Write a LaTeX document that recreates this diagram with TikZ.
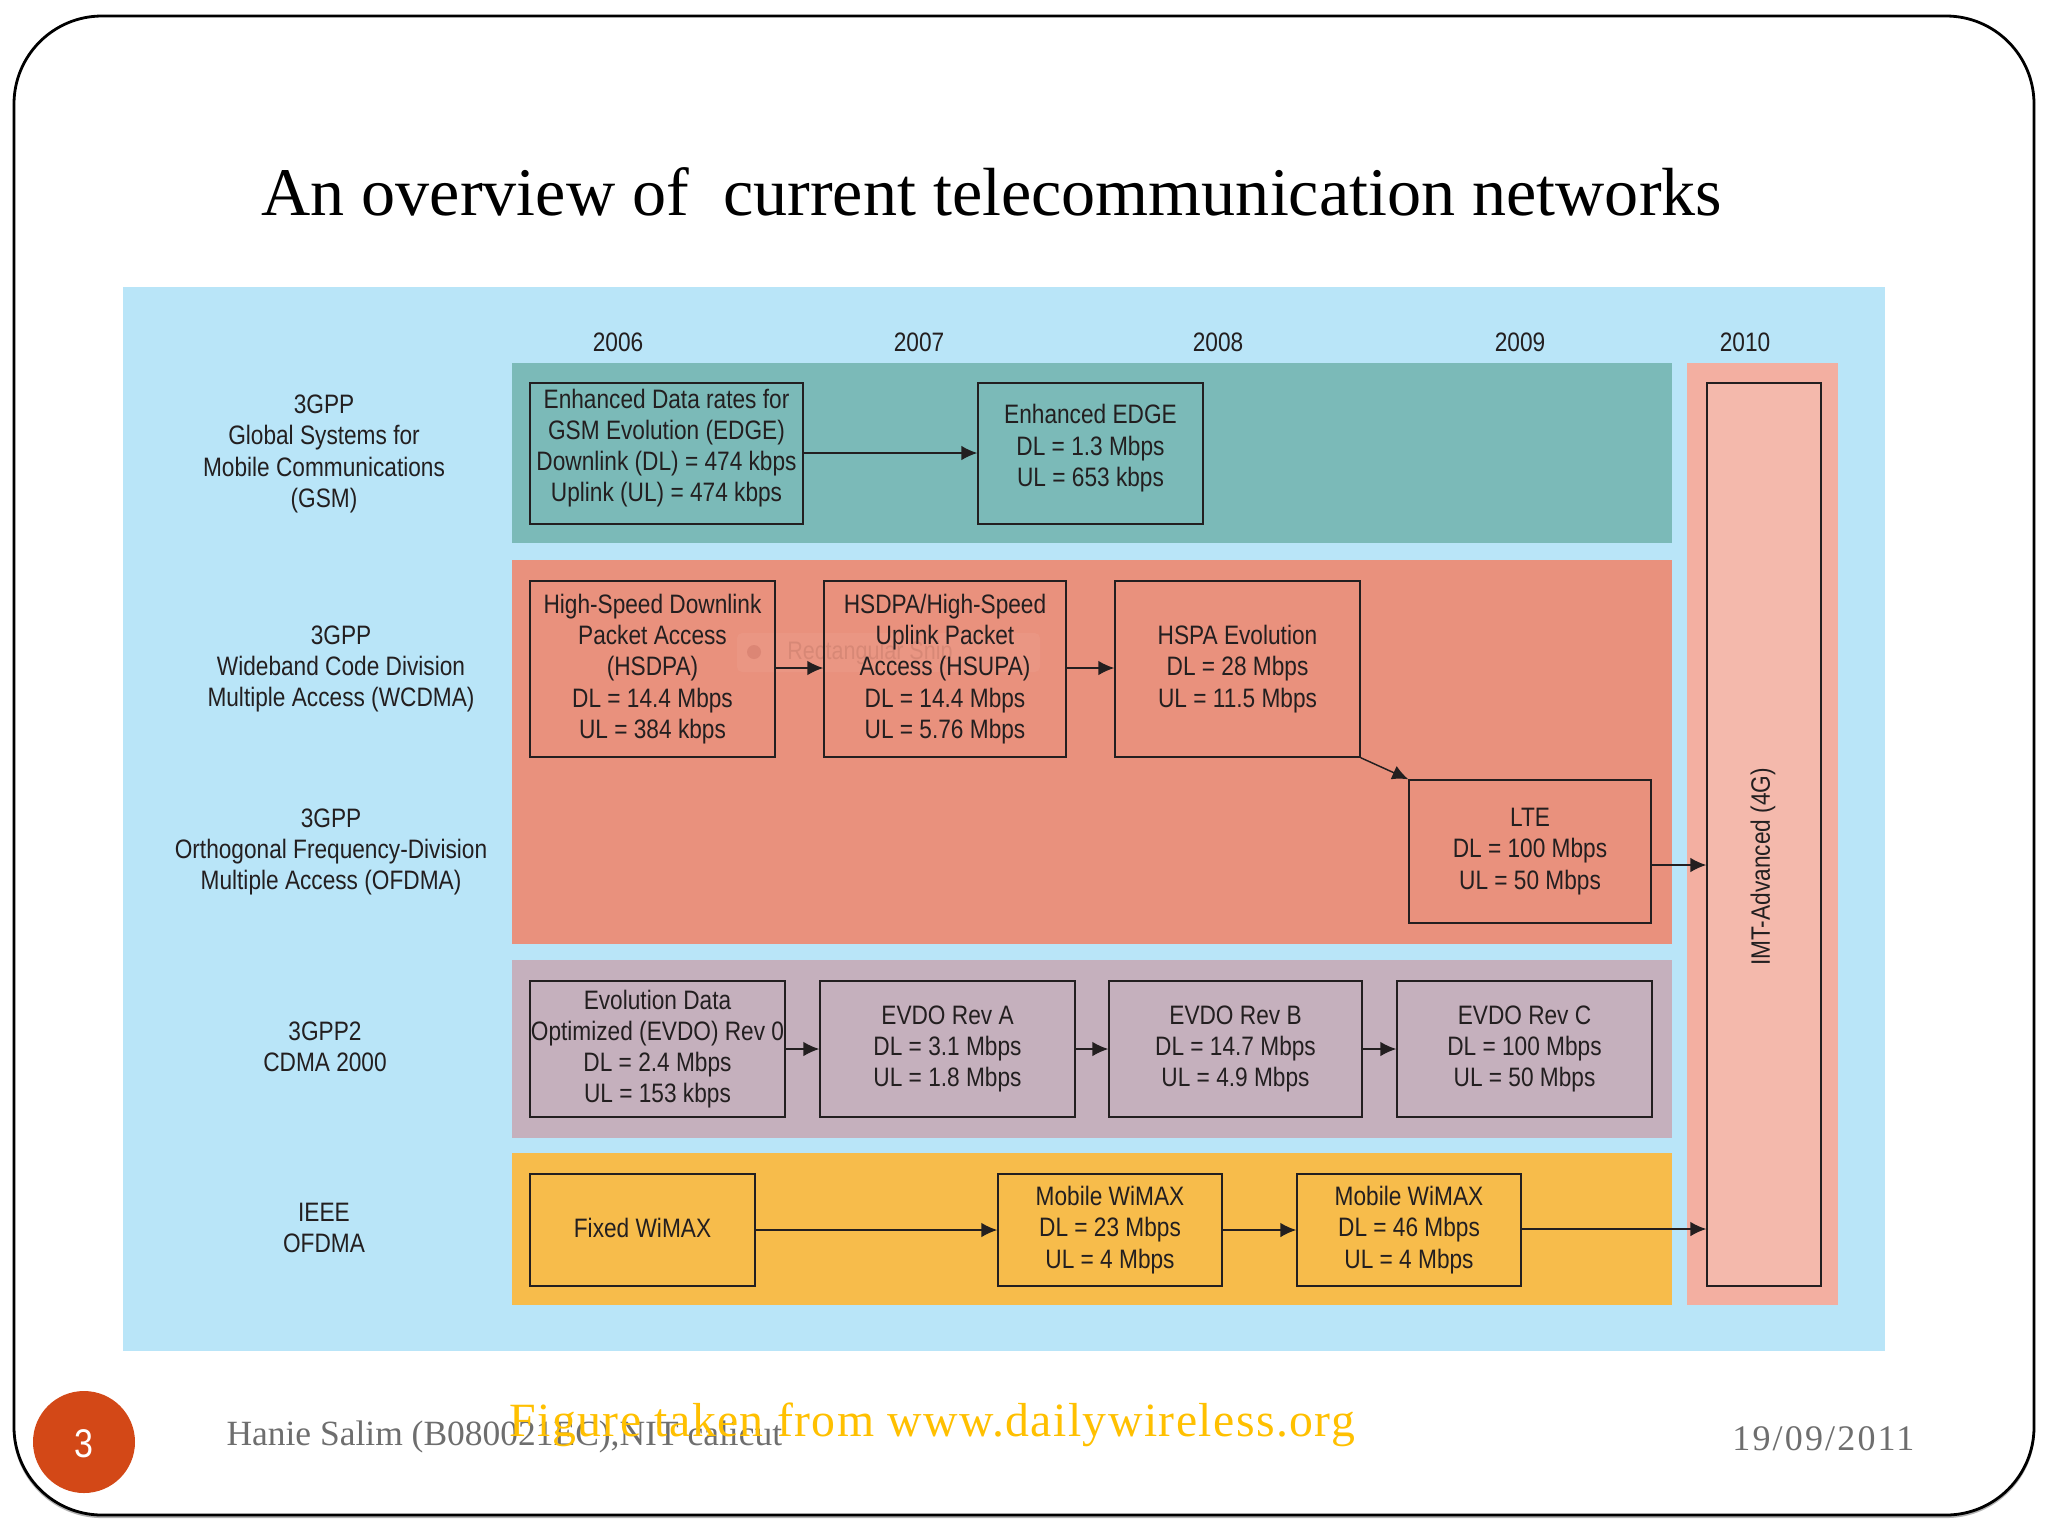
\documentclass[tikz,border=0pt]{standalone}
\usepackage{fontspec}
\usetikzlibrary{arrows.meta}
\setmainfont{Liberation Sans}[FakeStretch=0.85]
\newfontfamily\titlefont{Liberation Serif}
\newfontfamily\authorfont{Liberation Serif}
\newfontfamily\creditfont{Liberation Serif}[LetterSpace=3]
\newfontfamily\datefont{Liberation Serif}[LetterSpace=6]
\definecolor{bgblue}{HTML}{B9E5F8}
\definecolor{bandgreen}{HTML}{7BBAB8}
\definecolor{bandred}{HTML}{E9917D}
\definecolor{bandpurple}{HTML}{C5B0BD}
\definecolor{bandyellow}{HTML}{F7BC4B}
\definecolor{bandpink}{HTML}{F3AFA1}
\definecolor{innerpink}{HTML}{F4B9AC}
\definecolor{txt}{HTML}{231F20}
\definecolor{footgray}{HTML}{6E6E6E}
\definecolor{footyellow}{HTML}{FFC000}
\definecolor{badge}{HTML}{D34817}
\tikzset{
  x=0.375pt,y=-0.375pt,
  bx/.style={draw=txt,line width=0.55pt,inner sep=0pt,align=center,text=txt,
    font=\fontsize{10}{11.7}\selectfont},
  lbl/.style={inner sep=0pt,align=center,text=txt,font=\fontsize{10}{11.7}\selectfont},
  conn/.style={draw=txt,line width=0.55pt,-{Latex[length=6pt,width=5.5pt]}},
}
\newcommand{\pxbox}[6]{%
  \pgfmathsetmacro\ww{(#4-#2)*0.375}%
  \pgfmathsetmacro\hh{(#5-#3)*0.375}%
  \node[bx,minimum width=\ww pt,minimum height=\hh pt] (#1) at ({(#2+#4)/2},{(#3+#5)/2}) {#6};}
\newcommand{\liftline}{\rule[-6pt]{0pt}{6pt}}
\begin{document}
\begin{tikzpicture}
\useasboundingbox (0,0) rectangle (2048,1536);
\fill[white] (0,0) rectangle (2048,1536);
% frame
\draw[black!30,line width=0.8pt,rounded corners=33pt] (14,18) rectangle (2034,1517);
\draw[black,line width=1.05pt,rounded corners=33pt,fill=white] (14,16) rectangle (2034,1515);
% title
\node[inner sep=0pt,anchor=base west,text=black,font=\titlefont\fontsize{25.55}{28}\selectfont] (title) at (261,215) {An overview of\ \ current telecommunication networks};
% background and bands
\fill[bgblue] (123,287) rectangle (1885,1351);
\fill[bandgreen] (512,363) rectangle (1672,543);
\fill[bandred] (512,560) rectangle (1672,944);
\fill[bandpurple] (512,960) rectangle (1672,1138);
\fill[bandyellow] (512,1153) rectangle (1672,1305);
\fill[bandpink] (1687,363) rectangle (1838,1305);
\fill[innerpink] (1707,383) rectangle (1821,1286);
% faint snip overlay
\fill[white,opacity=0.05,rounded corners=2pt] (737,633) rectangle (1040,672);
\fill[bandred!85!red!80!black,opacity=0.3] (754,652) circle (7);
\node[inner sep=0pt,text=bandred!85!black,opacity=0.5,font=\fontsize{9.5}{11}\selectfont] (snip) at (870,653) {Rectangular Snip};
% years
\node[lbl] (y6) at (618,342) {2006};
\node[lbl] (y7) at (919,342) {2007};
\node[lbl] (y8) at (1218,342) {2008};
\node[lbl] (y9) at (1520,342) {2009};
\node[lbl] (y10) at (1745,342) {2010};
% left labels
\node[lbl] (gsm) at (324,454) {3GPP\\Global Systems for\\Mobile Communications\\(GSM)};
\node[lbl] (wcdma) at (341,669) {3GPP\\Wideband Code Division\\Multiple Access (WCDMA)};
\node[lbl] (ofdma) at (331,852) {3GPP\\Orthogonal Frequency-Division\\Multiple Access (OFDMA)};
\node[lbl] (cdma) at (325,1047) {3GPP2\\CDMA 2000};
\node[lbl] (ieee) at (324,1228) {IEEE\\OFDMA};
% boxes
\pxbox{edge}{530}{383}{803}{524}{Enhanced Data rates for\\GSM Evolution (EDGE)\\Downlink (DL) = 474 kbps\\Uplink (UL) = 474 kbps\liftline}
\pxbox{eedge}{978}{383}{1203}{524}{Enhanced EDGE\\DL = 1.3 Mbps\\UL = 653 kbps\liftline}
\pxbox{hsdpa}{530}{581}{775}{757}{High-Speed Downlink\\Packet Access\\(HSDPA)\\DL = 14.4 Mbps\\UL = 384 kbps}
\pxbox{hsupa}{824}{581}{1066}{757}{HSDPA/High-Speed\\Uplink Packet\\Access (HSUPA)\\DL = 14.4 Mbps\\UL = 5.76 Mbps}
\pxbox{hspa}{1115}{581}{1360}{757}{HSPA Evolution\\DL = 28 Mbps\\UL = 11.5 Mbps}
\pxbox{lte}{1409}{780}{1651}{923}{LTE\\DL = 100 Mbps\\UL = 50 Mbps}
\pxbox{evzero}{530}{981}{785}{1117}{Evolution Data\\Optimized (EVDO) Rev 0\\DL = 2.4 Mbps\\UL = 153 kbps}
\pxbox{eva}{820}{981}{1075}{1117}{EVDO Rev A\\DL = 3.1 Mbps\\UL = 1.8 Mbps}
\pxbox{evb}{1109}{981}{1362}{1117}{EVDO Rev B\\DL = 14.7 Mbps\\UL = 4.9 Mbps}
\pxbox{evc}{1397}{981}{1652}{1117}{EVDO Rev C\\DL = 100 Mbps\\UL = 50 Mbps}
\pxbox{fixed}{530}{1174}{755}{1286}{Fixed WiMAX\rule[-2pt]{0pt}{2pt}}
\pxbox{mwa}{998}{1174}{1222}{1286}{Mobile WiMAX\\DL = 23 Mbps\\UL = 4 Mbps}
\pxbox{mwb}{1297}{1174}{1521}{1286}{Mobile WiMAX\\DL = 46 Mbps\\UL = 4 Mbps}
\pxbox{imt}{1707}{383}{1821}{1286}{}
\node[lbl,rotate=90] (imtlabel) at (1763,867) {IMT-Advanced (4G)};
% connectors
\coordinate (ltefoot) at (1651,865);
\coordinate (mwfoot) at (1521,1229);
\draw[conn] (edge.east |- 0,453) -- (eedge.west |- 0,453);
\draw[conn] (hsdpa.east |- 0,668) -- (hsupa.west |- 0,668);
\draw[conn] (hsupa.east |- 0,668) -- (hspa.west |- 0,668);
\draw[conn] (hspa.south east) -- (lte.north west);
\draw[conn] (ltefoot) -- (ltefoot -| imt.west);
\draw[conn] (evzero) -- (eva);
\draw[conn] (eva) -- (evb);
\draw[conn] (evb) -- (evc);
\draw[conn] (fixed) -- (mwa);
\draw[conn] (mwa) -- (mwb);
\draw[conn] (mwfoot) -- (mwfoot -| imt.west);
% footer
\fill[badge] (84,1442) circle (51);
\node[inner sep=0pt,text=white,font=\fontsize{15}{17}\selectfont] (num) at (84,1444) {3};
\node[inner sep=0pt,anchor=base west,text=footgray,font=\authorfont\fontsize{13.3}{16}\selectfont] (author) at (226,1445) {Hanie Salim (B080021EC),NIT calicut};
\node[inner sep=0pt,anchor=base west,text=footyellow,font=\creditfont\fontsize{17.9}{22}\selectfont] (credit) at (509,1436) {Figure taken from www.dailywireless.org};
\node[inner sep=0pt,anchor=base east,text=footgray,font=\datefont\fontsize{13.5}{16}\selectfont] (date) at (1915,1450) {19/09/2011};
\end{tikzpicture}
\end{document}
